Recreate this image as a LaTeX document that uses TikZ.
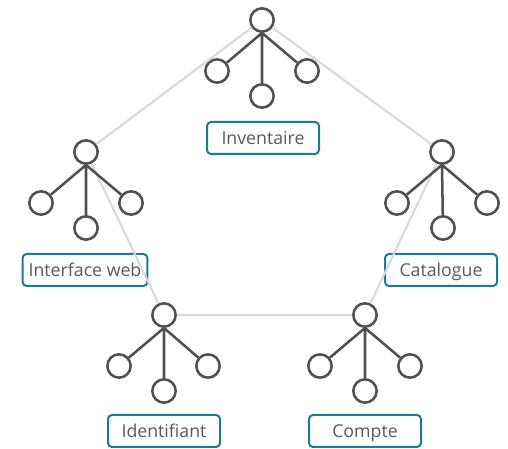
\documentclass[tikz,border=0pt]{standalone}
\usepackage{fontspec}
\setmainfont{Open Sans}
\definecolor{treegray}{HTML}{505050}
\definecolor{linkgray}{HTML}{D9D9D9}
\definecolor{boxteal}{HTML}{1D7C8A}
\definecolor{textgray}{HTML}{595959}

\tikzset{
  leaf/.style={circle, draw=treegray, fill=white, line width=1.9pt, minimum size=17.5pt, inner sep=0pt},
  branch/.style={draw=treegray, line width=1.9pt},
  link/.style={draw=linkgray, line width=1.6pt},
  tag/.style={draw=boxteal, line width=1.5pt, rounded corners=3pt, fill=white, text=textgray,
    font=\fontsize{13.3}{16}\selectfont, minimum width=84pt, minimum height=24pt,
    inner xsep=4.5pt, inner ysep=0pt, text height=10.4pt, text depth=0pt}
}

\begin{document}
\begin{tikzpicture}[x=0.75pt,y=0.75pt,yscale=-1,xscale=1]
\useasboundingbox (0,0) rectangle (508,449);

%Tree: Inventaire
\node [leaf] (invTop) at (262,20) {};
\node [leaf] (invL) at (217,71) {};
\node [leaf] (invR) at (307,71) {};
\node [leaf] (invM) at (262,96) {};
\node [tag] (invTag) at (263,138) {Inventaire};
%Tree: Interface web
\node [leaf] (webTop) at (86,152) {};
\node [leaf] (webL) at (41,203) {};
\node [leaf] (webR) at (131,203) {};
\node [leaf] (webM) at (86,228) {};
\node [tag] (webTag) at (85,270) {Interface web};
%Tree: Catalogue
\node [leaf] (catTop) at (442,152) {};
\node [leaf] (catL) at (397,203) {};
\node [leaf] (catR) at (487,203) {};
\node [leaf] (catM) at (443,228) {};
\node [tag] (catTag) at (441,270) {Catalogue};
%Tree: Identifiant
\node [leaf] (idTop) at (164,315) {};
\node [leaf] (idL) at (119,366) {};
\node [leaf] (idR) at (208,366) {};
\node [leaf] (idM) at (164,391) {};
\node [tag] (idTag) at (164,431) {Identifiant};
%Tree: Compte
\node [leaf] (acTop) at (365,315) {};
\node [leaf] (acL) at (320,366) {};
\node [leaf] (acR) at (410,366) {};
\node [leaf] (acM) at (365,391) {};
\node [tag] (acTag) at (365,431) {Compte};

%Links between trees
\path [link] (invTop) -- (webTop) (webTop) -- (idTop) (idTop) -- (acTop) (acTop) -- (catTop) (catTop) -- (invTop);

%Branches
\path [branch] (invTop.south) -- (invL) (invTop.south) -- (invM) (invTop.south) -- (invR);
\path [branch] (webTop.south) -- (webL) (webTop.south) -- (webM) (webTop.south) -- (webR);
\path [branch] (catTop.south) -- (catL) (catTop.south) -- (catM) (catTop.south) -- (catR);
\path [branch] (idTop.south) -- (idL) (idTop.south) -- (idM) (idTop.south) -- (idR);
\path [branch] (acTop.south) -- (acL) (acTop.south) -- (acM) (acTop.south) -- (acR);

\end{tikzpicture}
\end{document}
